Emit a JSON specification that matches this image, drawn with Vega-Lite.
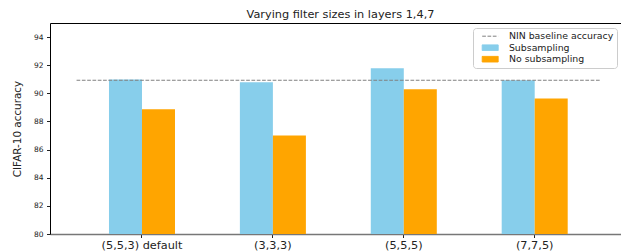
{
  "$schema": "https://vega.github.io/schema/vega-lite/v6.json",
  "autosize": "none",
  "width": 571,
  "height": 211,
  "padding": {"left": 50, "top": 23, "right": 0, "bottom": 18},
  "config": {
    "font": "DejaVu Sans",
    "view": {"stroke": null},
    "axis": {"labelFont": "DejaVu Sans", "titleFont": "DejaVu Sans", "grid": false},
    "axisY": {
      "values": [80, 82, 84, 86, 88, 90, 92, 94],
      "labelOverlap": false,
      "labelFontSize": 7.5, "labelColor": "#222", "labelPadding": 3.5, "tickColor": "#222", "tickSize": 3.5,
      "domainColor": "#000", "domainWidth": 1,
      "titleFontSize": 10.4, "titleFontWeight": "normal", "titleColor": "#222", "titlePadding": 10.5
    }
  },
  "title": {
    "text": "Varying filter sizes in layers 1,4,7",
    "fontSize": 11.3,
    "fontWeight": "normal",
    "color": "#222",
    "anchor": "middle",
    "frame": "group",
    "dx": 5,
    "offset": 3
  },
  "datasets": {
    "bars": [
      {"config": "(5,5,3) default", "series": "Subsampling", "accuracy": 90.98},
      {"config": "(5,5,3) default", "series": "No subsampling", "accuracy": 88.86},
      {"config": "(3,3,3)", "series": "Subsampling", "accuracy": 90.79},
      {"config": "(3,3,3)", "series": "No subsampling", "accuracy": 87.0},
      {"config": "(5,5,5)", "series": "Subsampling", "accuracy": 91.79},
      {"config": "(5,5,5)", "series": "No subsampling", "accuracy": 90.29},
      {"config": "(7,7,5)", "series": "Subsampling", "accuracy": 90.93},
      {"config": "(7,7,5)", "series": "No subsampling", "accuracy": 89.64}
    ],
    "baseline": [
      {"label": "NIN baseline accuracy", "accuracy": 90.93, "start": -0.5, "end": 3.5}
    ]
  },
  "layer": [
    {
      "data": {"name": "bars"},
      "mark": {"type": "bar", "clip": true},
      "encoding": {
        "x": {
          "field": "config", "type": "nominal", "sort": null,
          "scale": {"paddingInner": 0, "paddingOuter": 0.181, "align": 0.56},
          "axis": {
            "title": null, "labelAngle": 0, "labelFontSize": 11.3, "labelColor": "#222",
            "domainColor": "#777", "domainWidth": 1.5, "tickColor": "#222", "tickSize": 3.5, "labelPadding": 2
          }
        },
        "xOffset": {
          "field": "series", "type": "nominal",
          "sort": ["Subsampling", "No subsampling"],
          "scale": {"domain": ["Subsampling", "No subsampling"], "paddingInner": 0, "paddingOuter": 0.983, "align": 0.5}
        },
        "y": {
          "field": "accuracy", "type": "quantitative",
          "scale": {"domain": [80, 95], "zero": false, "nice": false},
          "axis": {"title": "CIFAR-10 accuracy", "values": [80, 82, 84, 86, 88, 90, 92, 94], "labelOverlap": false}
        },
        "color": {
          "field": "series", "type": "nominal",
          "scale": {
            "domain": ["NIN baseline accuracy", "Subsampling", "No subsampling"],
            "range": ["#808080", "#87CEEB", "#FFA500"]
          },
          "legend": {
            "title": null,
            "orient": "none",
            "legendX": 423,
            "legendY": 5,
            "labelFontSize": 9.4,
            "labelColor": "#222",
            "labelOffset": 14,
            "symbolSize": 64,
            "symbolOffset": 9,
            "rowPadding": 0.5,
            "padding": 3.5,
            "strokeColor": "#ccc",
            "fillColor": "white",
            "cornerRadius": 3,
            "symbolType": "M-2,-0.7H2V0.7H-2Z",
            "encode": {
              "symbols": {
                "update": {
                  "shape": {"signal": "datum.label === 'NIN baseline accuracy' ? 'M-2,0H2' : 'M-2,-0.7H2V0.7H-2Z'"},
                  "fill": {"signal": "datum.label === 'NIN baseline accuracy' ? 'transparent' : scale('color', datum.value)"},
                  "stroke": {"signal": "datum.label === 'NIN baseline accuracy' ? '#808080' : scale('color', datum.value)"},
                  "strokeDash": {"signal": "datum.label === 'NIN baseline accuracy' ? [3.7, 1.6] : [1, 0]"},
                  "strokeWidth": {"value": 1},
                  "opacity": {"value": 1}
                }
              }
            }
          }
        }
      }
    },
    {
      "data": {"name": "baseline"},
      "mark": {"type": "rule", "color": "#808080", "strokeWidth": 1, "strokeDash": [3.7, 1.6]},
      "encoding": {
        "x": {
          "field": "start", "type": "quantitative",
          "scale": {"domain": [-0.703, 3.659], "nice": false, "zero": false},
          "axis": {"orient": "top", "title": null, "labels": false, "ticks": false, "domain": true, "domainColor": "#000", "domainWidth": 1}
        },
        "x2": {"field": "end"},
        "y": {
          "field": "accuracy", "type": "quantitative",
          "axis": {"title": "CIFAR-10 accuracy", "values": [80, 82, 84, 86, 88, 90, 92, 94], "labelOverlap": false}
        }
      }
    }
  ],
  "resolve": {"scale": {"x": "independent"}, "axis": {"x": "independent"}}
}
